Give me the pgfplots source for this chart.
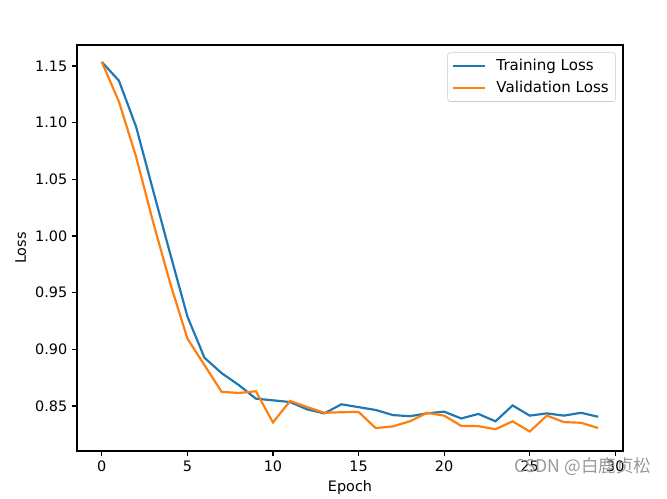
\documentclass[border=0pt]{standalone}
\usepackage{pgfplots}
\pgfplotsset{compat=1.18}
\usepackage{fontspec}
\setmainfont{DejaVu Sans}
\newfontfamily\cjk{Noto Sans CJK SC}
\definecolor{mplblue}{HTML}{1F77B4}
\definecolor{mplorange}{HTML}{FF7F0E}

\pgfplotstableread{
epoch train val
0  1.1535 1.1535
1  1.1370 1.1185
2  1.0965 1.0700
3  1.0400 1.0120
4  0.9840 0.9580
5  0.9290 0.9095
6  0.8925 0.8860
7  0.8790 0.8625
8  0.8685 0.8615
9  0.8565 0.8630
10 0.8550 0.8355
11 0.8535 0.8545
12 0.8470 0.8490
13 0.8435 0.8440
14 0.8515 0.8445
15 0.8490 0.8448
16 0.8465 0.8305
17 0.8420 0.8320
18 0.8410 0.8365
19 0.8435 0.8440
20 0.8450 0.8415
21 0.8390 0.8325
22 0.8430 0.8322
23 0.8365 0.8295
24 0.8505 0.8365
25 0.8415 0.8275
26 0.8435 0.8415
27 0.8415 0.8358
28 0.8440 0.8352
29 0.8405 0.8305
}\losstable

\begin{document}
\begin{tikzpicture}
\useasboundingbox (-57.75pt,-36pt) rectangle (442.5pt,338.25pt);
\begin{axis}[
    at={(0,0)}, anchor=south west,
    scale only axis,
    width=409.5pt, height=304.5pt,
    xmin=-1.45, xmax=30.45,
    ymin=0.8103, ymax=1.1685,
    xtick={0,5,10,15,20,25,30},
    ytick={0.85,0.90,0.95,1.00,1.05,1.10,1.15},
    yticklabel style={/pgf/number format/.cd, fixed, fixed zerofill, precision=2},
    /pgf/number format/assume math mode=true,
    tick align=outside, tick pos=left,
    major tick length=3.8pt,
    every tick/.style={black, line width=0.87pt},
    axis line style={line width=0.87pt},
    font=\fontsize{10.8}{12}\selectfont,
    xlabel={Epoch}, ylabel={Loss},
    legend cell align=left,
    legend style={at={(1,1)}, xshift=-5.5pt, yshift=-5.5pt, anchor=north east,
        draw=black!20, rounded corners=2pt, fill=white, fill opacity=0.8,
        text opacity=1, inner sep=3pt, row sep=2.5pt,
        font=\fontsize{11.3}{12.5}\selectfont},
    legend image code/.code={\draw[#1] (0pt,0pt) -- (24pt,0pt); \path (30pt,0pt);},
]
\addplot[mplblue, line width=1.63pt] table[x=epoch, y=train] {\losstable};
\addlegendentry{Training Loss}
\addplot[mplorange, line width=1.63pt] table[x=epoch, y=val] {\losstable};
\addlegendentry{Validation Loss}
\end{axis}
\node[text=black!40, font=\cjk\fontsize{13.2}{15}\selectfont] at (379.5pt,-11.5pt) {CSDN @白鹿贞松};
\end{tikzpicture}
\end{document}
